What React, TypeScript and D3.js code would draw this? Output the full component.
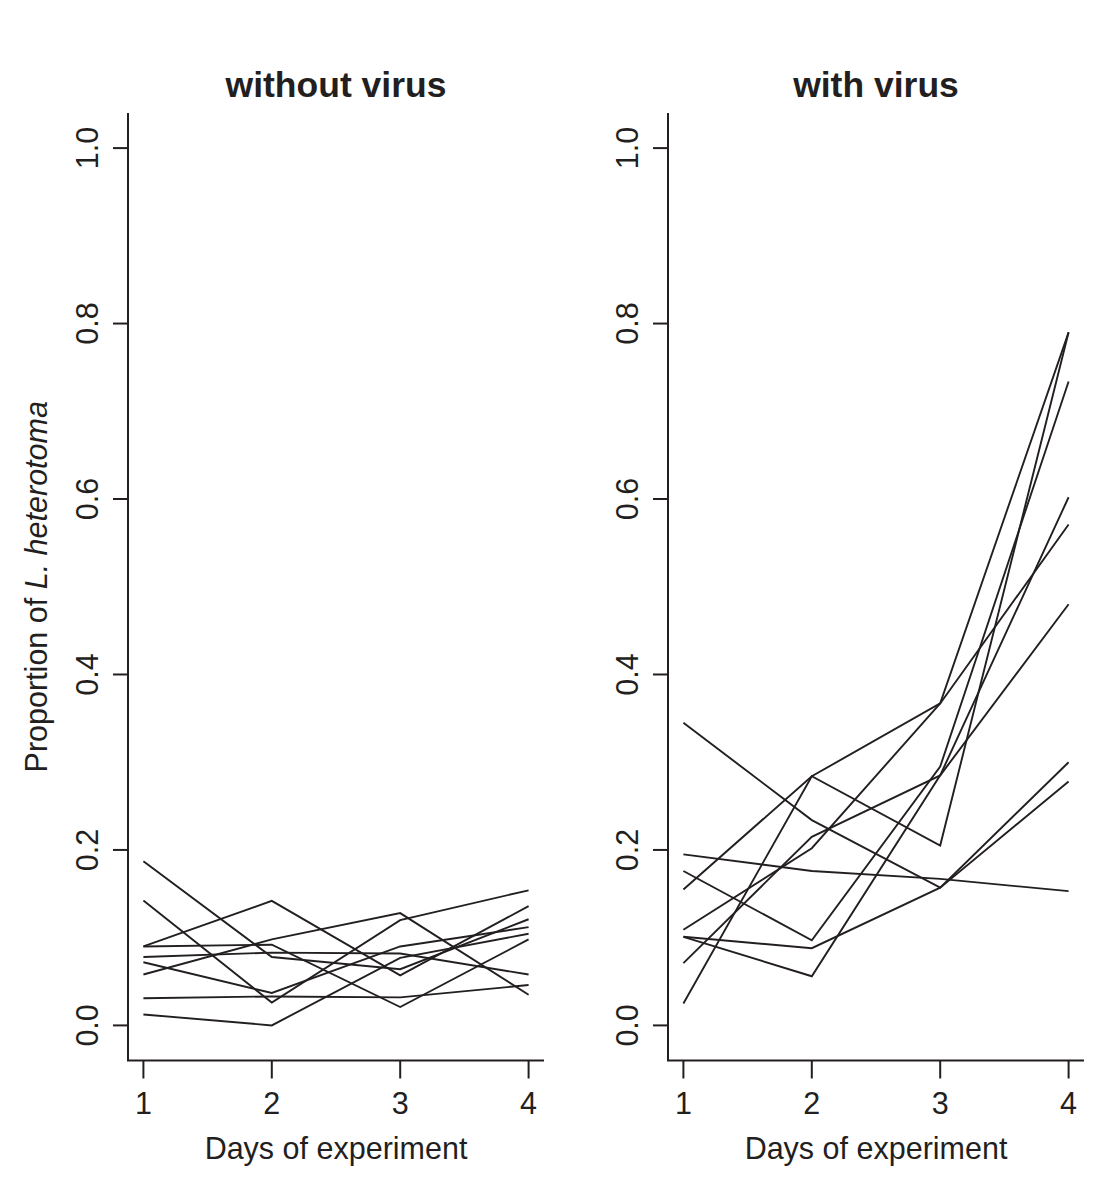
import React from "react";
import * as d3 from "d3";

const days = [1, 2, 3, 4];
const yTicks = [0, 0.2, 0.4, 0.6, 0.8, 1.0];
const yTickLabels = ["0.0", "0.2", "0.4", "0.6", "0.8", "1.0"];
const panelTitles = ["without virus", "with virus"];
const xAxisTitle = "Days of experiment";

// without virus replicates
const noVirusA = [0.187, 0.078, 0.064, 0.121];
const noVirusB = [0.1425, 0.026, 0.12, 0.154];
const noVirusC = [0.09, 0.142, 0.057, 0.136];
const noVirusD = [0.058, 0.098, 0.128, 0.035];
const noVirusE = [0.09, 0.092, 0.021, 0.098];
const noVirusF = [0.078, 0.083, 0.082, 0.058];
const noVirusG = [0.072, 0.037, 0.09, 0.112];
const noVirusH = [0.031, 0.033, 0.032, 0.046];
const noVirusI = [0.0125, 0.0, 0.077, 0.1045];

// with virus replicates
const virusR1 = [0.345, 0.234, 0.157, 0.278];
const virusR2 = [0.155, 0.284, 0.367, 0.79];
const virusR3 = [0.195, 0.176, 0.167, 0.153];
const virusR4 = [0.025, 0.284, 0.205, 0.79];
const virusR5 = [0.071, 0.215, 0.285, 0.48];
const virusR6 = [0.176, 0.097, 0.295, 0.734];
const virusR7 = [0.101, 0.088, 0.157, 0.3];
const virusR8 = [0.101, 0.056, 0.285, 0.602];
const virusR9 = [0.109, 0.202, 0.367, 0.571];

const panels = [
  [noVirusA, noVirusB, noVirusC, noVirusD, noVirusE, noVirusF, noVirusG, noVirusH, noVirusI],
  [virusR1, virusR2, virusR3, virusR4, virusR5, virusR6, virusR7, virusR8, virusR9],
];

const INK = "#231f20";
const FONT = "'Liberation Sans', Arial, Helvetica, sans-serif";
const FS = 30.5;

function Panel({ left, series, title, showYLabel }) {
  const plotLeft = left;
  const plotRight = left + 416;
  const plotTop = 113;
  const plotBottom = 1060.5;
  const x = d3.scaleLinear().domain([0.88, 4.12]).range([plotLeft, plotRight]);
  const y = d3.scaleLinear().domain([-0.04, 1.04]).range([plotBottom, plotTop]);
  const line = d3
    .line()
    .x((d, i) => x(days[i]))
    .y((d) => y(d));
  const cx = (plotLeft + plotRight) / 2;
  return (
    <g>
      <text
        x={cx}
        y={97}
        textAnchor="middle"
        fontFamily={FONT}
        fontWeight="bold"
        fontSize={35.5}
        fill={INK}
      >
        {title}
      </text>
      {series.map((s, i) => (
        <path key={i} d={line(s)} fill="none" stroke={INK} strokeWidth={1.9} strokeLinejoin="miter" />
      ))}
      {/* L-shaped box */}
      <path
        d={`M${plotLeft},${plotTop}V${plotBottom}H${plotRight}`}
        fill="none"
        stroke={INK}
        strokeWidth={2}
      />
      {days.map((dd) => (
        <g key={dd}>
          <line x1={x(dd)} x2={x(dd)} y1={plotBottom} y2={plotBottom + 18} stroke={INK} strokeWidth={2} />
          <text x={x(dd)} y={1114} textAnchor="middle" fontFamily={FONT} fontSize={FS} fill={INK}>
            {dd}
          </text>
        </g>
      ))}
      {yTicks.map((t, i) => (
        <g key={t}>
          <line x1={plotLeft - 15} x2={plotLeft} y1={y(t)} y2={y(t)} stroke={INK} strokeWidth={2} />
          <text
            transform={`translate(${plotLeft - 30},${y(t)}) rotate(-90)`}
            textAnchor="middle"
            fontFamily={FONT}
            fontSize={FS}
            fill={INK}
          >
            {yTickLabels[i]}
          </text>
        </g>
      ))}
      <text x={cx} y={1159} textAnchor="middle" fontFamily={FONT} fontSize={FS} fill={INK}>
        {xAxisTitle}
      </text>
      {showYLabel && (
        <text
          transform={`translate(47,${(plotTop + plotBottom) / 2}) rotate(-90)`}
          textAnchor="middle"
          fontFamily={FONT}
          fontSize={FS}
          fill={INK}
        >
          Proportion of <tspan fontStyle="italic">L. heterotoma</tspan>
        </text>
      )}
    </g>
  );
}

export default function App() {
  return (
    <svg
      width={1101}
      height={1194}
      style={{ position: "absolute", left: 0, top: 0, background: "#fff" }}
    >
      <rect x={0} y={0} width={1101} height={1194} fill="#fff" />
      <Panel left={128} series={panels[0]} title={panelTitles[0]} showYLabel={true} />
      <Panel left={668} series={panels[1]} title={panelTitles[1]} showYLabel={false} />
    </svg>
  );
}
